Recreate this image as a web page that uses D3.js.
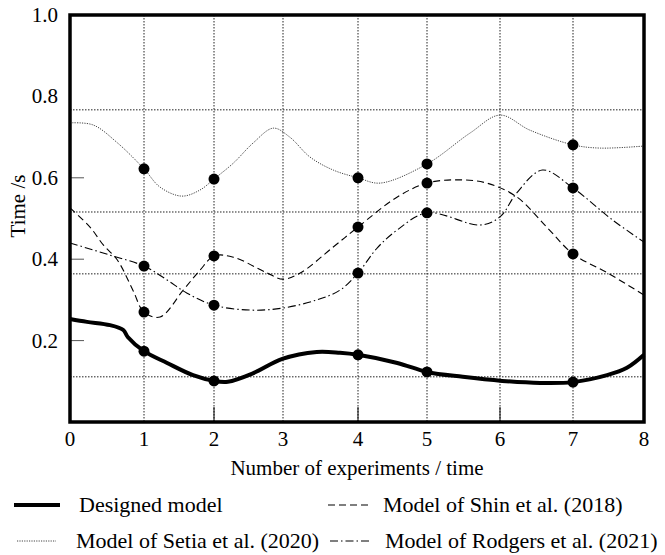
<!DOCTYPE html>
<html><head><meta charset="utf-8">
<script src="https://cdn.jsdelivr.net/npm/d3@7"></script>
<style>body{margin:0;background:#fff}svg{display:block}</style>
</head><body><svg id="c" width="665" height="555"></svg>
<script>
// ---- data ----
const xTicks = [0,1,2,3,4,5,6,7,8];
const yTicks = [0.2,0.4,0.6,0.8,1.0];
const gridX = [1,2,3,4,5,6,7];
const gridY = [0.111,0.364,0.516,0.767];
const markerX = [1,2,4,5,7];

const designedX = [0,0.23,0.54,0.72,0.78,1,1.33,1.70,2,2.2,2.57,2.99,3.45,3.76,4,4.57,5,5.49,6.03,6.55,7,7.48,7.76,8];
const designedY = [0.253,0.246,0.238,0.226,0.209,0.174,0.145,0.115,0.101,0.099,0.120,0.155,0.172,0.170,0.165,0.145,0.123,0.111,0.101,0.096,0.098,0.115,0.133,0.165];
const designedM = [0.174,0.101,0.165,0.123,0.098];

const setiaX = [0,0.31,0.64,1,1.23,1.54,1.80,2,2.28,2.57,2.86,3.09,3.36,3.67,4,4.32,5,5.59,6,6.41,7,7.38,8];
const setiaY = [0.735,0.730,0.686,0.622,0.577,0.555,0.570,0.597,0.636,0.686,0.722,0.700,0.651,0.619,0.600,0.587,0.634,0.710,0.754,0.717,0.681,0.673,0.678];
const setiaM = [0.622,0.597,0.600,0.634,0.681];

const shinX = [0,0.27,0.45,0.64,0.85,1,1.23,1.56,1.80,2,2.28,2.77,3,3.23,3.67,4,4.57,5,5.41,5.82,6.23,6.64,7,7.49,8];
const shinY = [0.526,0.479,0.435,0.398,0.324,0.270,0.258,0.324,0.373,0.408,0.405,0.366,0.351,0.366,0.430,0.479,0.553,0.587,0.595,0.587,0.553,0.479,0.413,0.366,0.312];
const shinM = [0.270,0.408,0.479,0.587,0.413];

const rodgersX = [0,0.54,1,1.33,1.61,2,2.52,3,3.45,3.76,4,4.28,4.57,5,5.73,6,6.23,6.58,7,7.56,8];
const rodgersY = [0.440,0.410,0.383,0.349,0.317,0.287,0.275,0.280,0.300,0.324,0.366,0.428,0.472,0.514,0.484,0.504,0.563,0.619,0.575,0.496,0.442];
const rodgersM = [0.383,0.287,0.366,0.514,0.575];

const legendNames = ["Designed model","Model of Shin et al. (2018)","Model of Setia et al. (2020)","Model of Rodgers et al. (2021)"];
const xTitle = "Number of experiments / time";
const yTitle = "Time /s";

// ---- drawing ----
const FONT = "Liberation Serif, Times New Roman, Times, serif";
const svg = d3.select("#c");
const x = d3.scaleLinear().domain(xTicks).range([70,144,214,283,358,427,500,573,644]);
const y = d3.scaleLinear().domain([0,1]).range([422,15]);

const styles = {
  designed:{w:4, dash:null, color:"#000"},
  setia:{w:1, dash:"1.2,1.2", color:"#444"},
  shin:{w:1.1, dash:"7,4", color:"#000"},
  rodgers:{w:1.1, dash:"8,3,1.5,3", color:"#000"}
};

// grid
svg.append("g").selectAll("line").data(gridX).join("line")
  .attr("x1",d=>x(d)).attr("x2",d=>x(d)).attr("y1",y(1)).attr("y2",y(0))
  .attr("stroke","#222").attr("stroke-width",1).attr("stroke-dasharray","1.5,1.5");
svg.append("g").selectAll("line").data(gridY).join("line")
  .attr("x1",x(0)).attr("x2",x(8)).attr("y1",d=>y(d)).attr("y2",d=>y(d))
  .attr("stroke","#222").attr("stroke-width",1).attr("stroke-dasharray","1.5,1.5");

// inner ticks
svg.append("g").selectAll("line").data([0.2,0.4,0.6]).join("line")
  .attr("x1",x(0)).attr("x2",x(0)+14).attr("y1",d=>y(d)).attr("y2",d=>y(d))
  .attr("stroke","#555").attr("stroke-width",1);
svg.append("g").selectAll("line").data([2,4,6]).join("line")
  .attr("x1",d=>x(d)).attr("x2",d=>x(d)).attr("y1",y(0)).attr("y2",y(0)-15)
  .attr("stroke","#000").attr("stroke-width",1);

const line = d3.line().x(d=>x(d[0])).y(d=>y(d[1])).curve(d3.curveCatmullRom.alpha(0.5));
function series(xs, ys, ms, st){
  svg.append("path").datum(d3.zip(xs,ys)).attr("d",line)
    .attr("fill","none").attr("stroke",st.color).attr("stroke-width",st.w)
    .attr("stroke-dasharray",st.dash).attr("stroke-linejoin","round").attr("stroke-linecap","butt");
  svg.append("g").selectAll("circle").data(d3.zip(markerX,ms)).join("circle")
    .attr("cx",d=>x(d[0])).attr("cy",d=>y(d[1])).attr("r",5.5).attr("fill","#000");
}
series(setiaX,setiaY,setiaM,styles.setia);
series(shinX,shinY,shinM,styles.shin);
series(rodgersX,rodgersY,rodgersM,styles.rodgers);
series(designedX,designedY,designedM,styles.designed);

// frame
svg.append("rect").attr("x",x(0)).attr("y",y(1)).attr("width",x(8)-x(0)).attr("height",y(0)-y(1))
  .attr("fill","none").attr("stroke","#000").attr("stroke-width",3.5);

// axes labels
svg.append("g").selectAll("text").data(xTicks).join("text")
  .attr("x",d=>x(d)).attr("y",446).attr("text-anchor","middle").attr("font-size",21)
  .attr("font-family",FONT).text(d=>d);
svg.append("g").selectAll("text").data(yTicks).join("text")
  .attr("x",58).attr("y",d=>y(d)+7).attr("text-anchor","end").attr("font-size",21)
  .attr("font-family",FONT).text(d=>d.toFixed(1));
svg.append("text").attr("x",357).attr("y",475).attr("text-anchor","middle").attr("font-size",21)
  .attr("font-family",FONT).text(xTitle);
svg.append("text").attr("transform","translate(25,206) rotate(-90)").attr("text-anchor","middle").attr("font-size",21)
  .attr("font-family",FONT).text(yTitle);

// legend
const leg = [
  {k:"designed", lx1:14, lx2:60, tx:79, ty:505},
  {k:"shin", lx1:328, lx2:370, tx:383, ty:505},
  {k:"setia", lx1:17, lx2:56, tx:76, ty:541},
  {k:"rodgers", lx1:330, lx2:370, tx:385, ty:541}
];
leg.forEach((l,i)=>{
  const st = styles[l.k];
  svg.append("line").attr("x1",l.lx1).attr("x2",l.lx2).attr("y1",l.ty).attr("y2",l.ty)
    .attr("stroke",st.color).attr("stroke-width",st.w).attr("stroke-dasharray",st.dash);
  svg.append("text").attr("x",l.tx).attr("y",l.ty+7).attr("font-size",22)
    .attr("font-family",FONT).text(legendNames[i]);
});
</script></body></html>
